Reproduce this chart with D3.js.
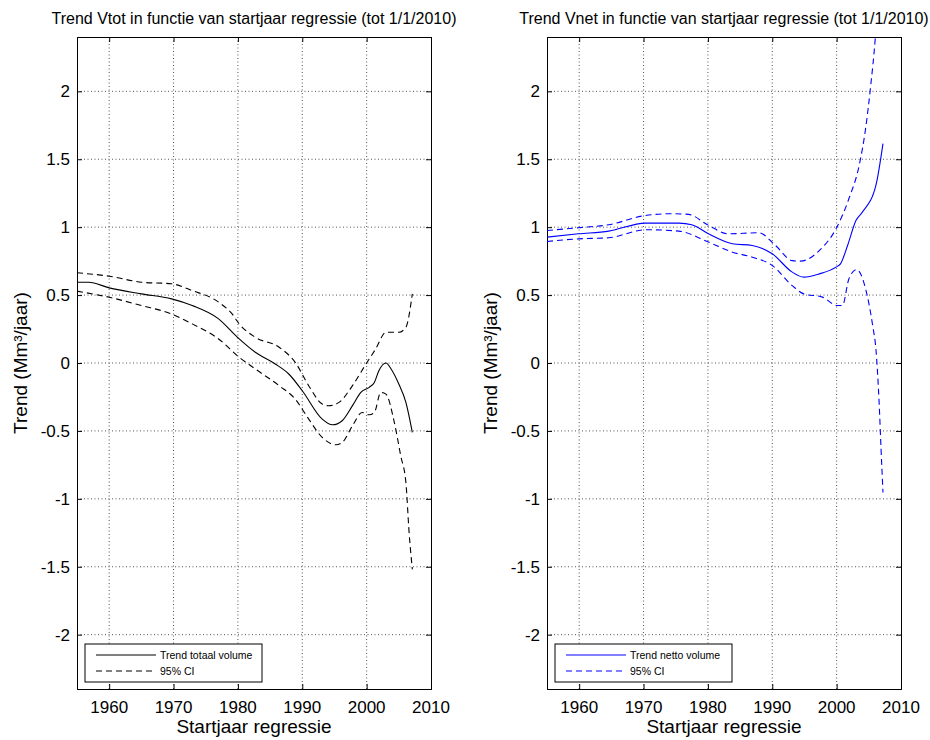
<html>
<head>
<style>
  body { margin: 0; background: #fff; }
  text { font-family: "Liberation Sans", Arial, sans-serif; fill: #000; }
  .grid line { stroke: #555; stroke-dasharray: 1,2.5; }
  .line { fill: none; stroke-width: 1.1; }
</style>
</head>
<body>
<svg id="chart" width="930" height="740"></svg>
<script src="https://d3js.org/d3.v7.min.js"></script>
<script>
// tick labels
const xTicks = [1960, 1970, 1980, 1990, 2000, 2010]
const yTicks = [-2, -1.5, -1, -0.5, 0, 0.5, 1, 1.5, 2]

// left panel: Vtot [startjaar, trend]
const vtotTrend = [[1955,0.595],[1956.8,0.595],[1960,0.553],[1965,0.509],[1969.7,0.472],[1972.9,0.423],
  [1977,0.325],[1979.9,0.19],[1982.7,0.079],[1985.8,-0.007],[1987.9,-0.081],[1990,-0.204],[1993.1,-0.413],
  [1994.7,-0.455],[1996.2,-0.425],[1997.8,-0.314],[1999.1,-0.216],[2000.4,-0.179],[2001.2,-0.143],
  [2001.9,-0.057],[2003,0.0],[2003.8,-0.044],[2005,-0.155],[2006.1,-0.29],[2007.1,-0.511]]
const vtotUpper = [[1955,0.664],[1960,0.639],[1965,0.595],[1969.7,0.583],[1972.9,0.533],[1977,0.448],
  [1979.1,0.361],[1980.2,0.288],[1982.7,0.19],[1986.4,0.116],[1988.9,0.005],[1991,-0.167],[1993.1,-0.302],
  [1994.1,-0.315],[1995.7,-0.29],[1997.8,-0.167],[1999.9,-0.007],[2001.4,0.103],[2003,0.226],[2005,0.226],
  [2006.1,0.263],[2007.1,0.509]]
const vtotLower = [[1955,0.529],[1960,0.484],[1965,0.423],[1969.7,0.361],[1972.9,0.288],[1977,0.177],
  [1980.2,0.042],[1982.7,-0.044],[1986.4,-0.167],[1988.9,-0.265],[1991,-0.413],[1993.1,-0.548],
  [1995.2,-0.602],[1996.2,-0.585],[1997.8,-0.462],[1999.3,-0.364],[2000.4,-0.381],[2001.2,-0.364],
  [2002.2,-0.216],[2003,-0.229],[2004.3,-0.437],[2005.3,-0.684],[2006.1,-0.88],[2006.6,-1.249],[2007.1,-1.519]]

// right panel: Vnet
const vnetTrend = [[1955,0.927],[1959.9,0.951],[1964.6,0.971],[1970.3,1.03],[1975.5,1.03],[1977.5,1.018],
  [1980.1,0.951],[1983.8,0.878],[1986.9,0.865],[1990,0.804],[1993.1,0.669],[1994.9,0.632],[1997.3,0.656],
  [1999.9,0.706],[2000.6,0.73],[2001.7,0.865],[2003,1.049],[2004,1.111],[2006.1,1.308],[2007.2,1.615]]
const vnetUpper = [[1955,0.976],[1959.9,0.996],[1964.6,1.018],[1970.3,1.086],[1974.4,1.099],[1977,1.094],
  [1980.1,1.013],[1983.2,0.951],[1987.9,0.959],[1990.5,0.865],[1993.1,0.754],[1994.4,0.75],[1997.3,0.828],
  [1999.9,0.988],[2001.9,1.209],[2003.5,1.455],[2004.5,1.726],[2005.3,2.045],[2006,2.39],[2006.2,2.52]]
const vnetLower = [[1955,0.895],[1959.9,0.914],[1964.6,0.922],[1970.3,0.981],[1975.5,0.971],[1980.1,0.89],
  [1983.8,0.816],[1986.9,0.779],[1990,0.718],[1993.1,0.57],[1994.9,0.509],[1997.8,0.485],[2000.1,0.423],
  [2000.9,0.423],[2001.9,0.619],[2003.1,0.688],[2004.5,0.546],[2005.6,0.275],[2006.1,0.103],
  [2006.6,-0.29],[2006.9,-0.634],[2007.2,-0.954]]

const titles = ["Trend Vtot in functie van startjaar regressie (tot 1/1/2010)",
                "Trend Vnet in functie van startjaar regressie (tot 1/1/2010)"]
const legendLabels = [["Trend totaal volume", "95% CI"], ["Trend netto volume", "95% CI"]]

const svg = d3.select("#chart")
const plotW = 354, plotH = 652, plotTop = 37

function drawPanel(left, idx, trend, upper, lower, color) {
  const g = svg.append("g").attr("transform", "translate(" + left + "," + plotTop + ")")
  const x = d3.scaleLinear().domain([1955, 2010]).range([0, plotW])
  const y = d3.scaleLinear().domain([-2.4, 2.4]).range([plotH, 0])

  // grid
  const grid = g.append("g").attr("class", "grid")
  grid.selectAll(".gx").data(xTicks.filter(d => d < 2010)).join("line")
    .attr("x1", d => x(d)).attr("x2", d => x(d)).attr("y1", 0).attr("y2", plotH)
  grid.selectAll(".gy").data(yTicks).join("line")
    .attr("y1", d => y(d)).attr("y2", d => y(d)).attr("x1", 0).attr("x2", plotW)

  // inside ticks on all sides
  const tk = 5
  g.append("g").attr("transform", "translate(0," + plotH + ")")
    .call(d3.axisBottom(x).tickValues(xTicks).tickSize(-tk).tickFormat(""))
  g.append("g").call(d3.axisTop(x).tickValues(xTicks).tickSize(-tk).tickFormat(""))
  g.append("g").call(d3.axisLeft(y).tickValues(yTicks).tickSize(-tk).tickFormat(""))
  g.append("g").attr("transform", "translate(" + plotW + ",0)")
    .call(d3.axisRight(y).tickValues(yTicks).tickSize(-tk).tickFormat(""))
  g.selectAll(".domain").attr("stroke", "#000")

  // tick labels
  g.selectAll(".xl").data(xTicks).join("text")
    .attr("x", d => x(d)).attr("y", plotH + 24).attr("text-anchor", "middle")
    .attr("font-size", 17).text(d => d)
  g.selectAll(".yl").data(yTicks).join("text")
    .attr("x", -7).attr("y", d => y(d)).attr("dy", "0.35em").attr("text-anchor", "end")
    .attr("font-size", 17).text(d => d)

  // clip + lines
  g.append("clipPath").attr("id", "clip" + idx).append("rect")
    .attr("width", plotW).attr("height", plotH)
  const line = d3.line().x(d => x(d[0])).y(d => y(d[1])).curve(d3.curveMonotoneX)
  const lines = g.append("g").attr("clip-path", "url(#clip" + idx + ")")
  lines.append("path").datum(trend).attr("class", "line").attr("stroke", color).attr("d", line)
  ;[upper, lower].forEach(s => lines.append("path").datum(s).attr("class", "line")
    .attr("stroke", color).attr("stroke-dasharray", "6,4").attr("d", line))

  // titles and labels
  svg.append("text").attr("x", left + plotW / 2).attr("y", 24).attr("text-anchor", "middle")
    .attr("font-size", 16).text(titles[idx])
  svg.append("text").attr("x", left + plotW / 2).attr("y", 733).attr("text-anchor", "middle")
    .attr("font-size", 19).text("Startjaar regressie")
  svg.append("text").attr("transform", "translate(" + (left - 50) + "," + (plotTop + plotH / 2) + ") rotate(-90)")
    .attr("text-anchor", "middle").attr("font-size", 19).text("Trend (Mm³/jaar)")

  // legend
  const lg = g.append("g").attr("transform", "translate(8," + (644 - plotTop) + ")")
  lg.append("rect").attr("width", 177).attr("height", 38).attr("fill", "#fff").attr("stroke", "#000")
  legendLabels[idx].forEach((lab, i) => {
    const ly = 11 + i * 16
    lg.append("line").attr("x1", 11).attr("x2", 71).attr("y1", ly).attr("y2", ly)
      .attr("stroke", color).attr("stroke-dasharray", i ? "6,4" : null)
    lg.append("text").attr("x", 75).attr("y", ly).attr("dy", "0.35em")
      .attr("font-size", 10.5).text(lab)
  })
}

drawPanel(77, 0, vtotTrend, vtotUpper, vtotLower, "#000")
drawPanel(547, 1, vnetTrend, vnetUpper, vnetLower, "#0000ff")
</script>
</body>
</html>
